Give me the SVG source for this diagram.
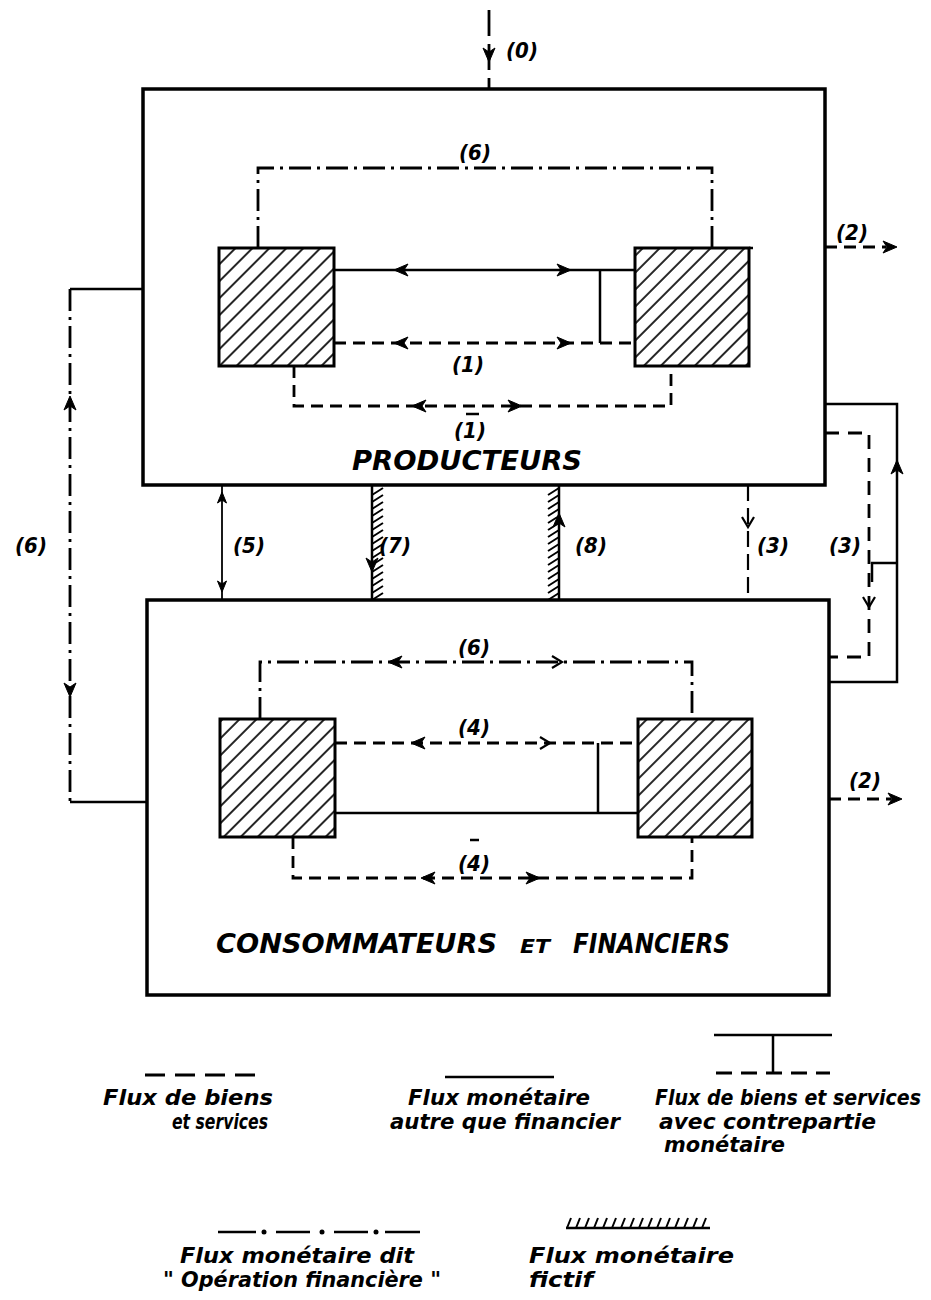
<svg xmlns="http://www.w3.org/2000/svg" xmlns:xlink="http://www.w3.org/1999/xlink" width="931" height="1300" viewBox="0 0 931 1300">
<style>
.box{fill:#fff;stroke:#000;stroke-width:3.5}
.hr{fill:url(#hatch);stroke:#000;stroke-width:3}
.s{fill:none;stroke:#000;stroke-width:2.5}
.th{fill:none;stroke:#000;stroke-width:1.8}
.d{fill:none;stroke:#000;stroke-width:2.8;stroke-dasharray:12 7}
.dd{fill:none;stroke:#000;stroke-width:2.8;stroke-dasharray:22 6 3 6}
.tk{fill:none;stroke:#000;stroke-width:2}
.ah{fill:#000;stroke:#000;stroke-width:1}
.ao{fill:none;stroke:#000;stroke-width:2.2}
text{font-family:"DejaVu Sans Condensed","DejaVu Sans","Liberation Sans",sans-serif;font-style:italic;font-weight:bold;fill:#000}
.lb{font-size:22px;text-anchor:middle}
.tt{font-size:27px}
.lg{font-size:21px}
</style>
<defs>
<pattern id="hatch" patternUnits="userSpaceOnUse" width="12" height="12" patternTransform="rotate(45)">
<rect width="12" height="12" fill="#fff"/>
<line x1="6" y1="0" x2="6" y2="12" stroke="#000" stroke-width="1.7"/>
</pattern>
<path id="af" d="M0,0 L-14,-6 L-10,0 L-14,6 Z"/>
<path id="afs" d="M0,0 L-11,-4.5 L-8,0 L-11,4.5 Z"/>
<path id="ao" d="M-10,-6 L0,0 L-10,6"/>
</defs>

<g id="producteurs">
<rect class="box" x="143" y="89" width="682" height="396"/>
<rect class="hr" x="219" y="248" width="115" height="118"/>
<rect class="hr" x="635" y="248" width="114" height="118"/>
<line class="s" x1="749" y1="248" x2="753" y2="248" stroke-width="3"/>
<text class="tt" x="352" y="470" textLength="230" lengthAdjust="spacingAndGlyphs">PRODUCTEURS</text>
</g>

<g id="consommateurs">
<rect class="box" x="147" y="600" width="682" height="395"/>
<rect class="hr" x="220" y="719" width="115" height="118"/>
<rect class="hr" x="638" y="719" width="114" height="118"/>
<text class="tt" x="216" y="953"><tspan x="216" textLength="281" lengthAdjust="spacingAndGlyphs">CONSOMMATEURS</tspan><tspan x="520" font-size="19" textLength="30" lengthAdjust="spacingAndGlyphs">ET</tspan><tspan x="573" textLength="157" lengthAdjust="spacingAndGlyphs">FINANCIERS</tspan></text>
</g>

<g id="connectors">
<!-- (0) -->
<path class="d" d="M489,10 V89" style="stroke-dasharray:26 8"/>
<use href="#af" class="ah" transform="translate(489,62) rotate(90)"/>
<text class="lb" x="522" y="58">(0)</text>

<!-- top box internal -->
<path class="dd" d="M258,248 V168 H712 V248"/>
<text class="lb" x="475" y="160">(6)</text>
<path class="s" d="M334,270 H635 M600,270 V343"/>
<use href="#af" class="ah" transform="translate(394,270) rotate(180)"/>
<use href="#af" class="ah" transform="translate(571,270)"/>
<path class="d" d="M334,343 H635"/>
<use href="#af" class="ah" transform="translate(394,343) rotate(180)"/>
<use href="#af" class="ah" transform="translate(571,343)"/>
<text class="lb" x="468" y="372">(1)</text>
<path class="d" d="M294,366 V406 H671 V366"/>
<use href="#af" class="ah" transform="translate(412,406) rotate(180)"/>
<use href="#af" class="ah" transform="translate(522,406)"/>
<text class="lb" x="470" y="438">(1)</text>
<line class="s" x1="466" y1="414" x2="479" y2="414"/>

<!-- bottom box internal -->
<path class="dd" d="M260,719 V662 H692 V719"/>
<use href="#af" class="ah" transform="translate(388,662) rotate(180)"/>
<use href="#ao" class="ao" transform="translate(562,662)"/>
<text class="lb" x="474" y="655">(6)</text>
<path class="d" d="M335,743 H638"/>
<use href="#af" class="ah" transform="translate(411,743) rotate(180)"/>
<use href="#ao" class="ao" transform="translate(550,743)"/>
<text class="lb" x="474" y="735">(4)</text>
<path class="s" d="M598,743 V813 M335,813 H638"/>
<path class="d" d="M293,837 V878 H692 V837"/>
<use href="#af" class="ah" transform="translate(421,878) rotate(180)"/>
<use href="#af" class="ah" transform="translate(540,878)"/>
<text class="lb" x="474" y="871">(4)</text>
<line class="s" x1="470" y1="840" x2="479" y2="840"/>

<!-- left (6) -->
<path class="s" d="M143,289 H70 M70,802 H147" stroke-width="3"/>
<path class="dd" d="M70,289 V802"/>
<use href="#af" class="ah" transform="translate(70,396) rotate(-90)"/>
<use href="#af" class="ah" transform="translate(70,697) rotate(90)"/>
<text class="lb" x="31" y="553">(6)</text>

<!-- (5) -->
<path class="th" d="M222,485 V600"/>
<use href="#afs" class="ah" transform="translate(222,492) rotate(-90)"/>
<use href="#afs" class="ah" transform="translate(222,592) rotate(90)"/>
<text class="lb" x="249" y="553">(5)</text>

<!-- (7) fictif -->
<path class="s" d="M372,485 V600"/>
<path class="tk" d="M372,495 l11,-7 M372,502 l11,-7 M372,509 l11,-7 M372,516 l11,-7 M372,523 l11,-7 M372,530 l11,-7 M372,537 l11,-7 M372,544 l11,-7 M372,551 l11,-7 M372,558 l11,-7 M372,565 l11,-7 M372,572 l11,-7 M372,579 l11,-7 M372,586 l11,-7 M372,593 l11,-7 M372,600 l11,-7"/>
<use href="#af" class="ah" transform="translate(372,572) rotate(90)"/>
<text class="lb" x="395" y="553">(7)</text>

<!-- (8) fictif -->
<path class="s" d="M559,485 V600"/>
<path class="tk" d="M548,495 l11,-7 M548,502 l11,-7 M548,509 l11,-7 M548,516 l11,-7 M548,523 l11,-7 M548,530 l11,-7 M548,537 l11,-7 M548,544 l11,-7 M548,551 l11,-7 M548,558 l11,-7 M548,565 l11,-7 M548,572 l11,-7 M548,579 l11,-7 M548,586 l11,-7 M548,593 l11,-7 M548,600 l11,-7"/>
<use href="#af" class="ah" transform="translate(559,513) rotate(-90)"/>
<text class="lb" x="591" y="553">(8)</text>

<!-- (3) left -->
<path class="d" d="M748,485 V600" style="stroke-width:2.2;stroke-dasharray:16 7"/>
<use href="#ao" class="ao" transform="translate(748,527) rotate(90)"/>
<text class="lb" x="773" y="553">(3)</text>

<!-- right loops -->
<path class="s" d="M825,404 H897 V682 H829" stroke-width="3"/>
<use href="#af" class="ah" transform="translate(897,460) rotate(-90)"/>
<path class="s" d="M897,563 H872 V582" stroke-width="3"/>
<path class="d" d="M825,433 H869 V657 H829" style="stroke-dasharray:14 9"/>
<use href="#ao" class="ao" transform="translate(869,607) rotate(90)"/>
<text class="lb" x="845" y="553">(3)</text>

<!-- (2) -->
<path class="d" d="M825,247 H886"/>
<use href="#af" class="ah" transform="translate(897,247)"/>
<text class="lb" x="852" y="240">(2)</text>
<path class="d" d="M829,799 H891"/>
<use href="#af" class="ah" transform="translate(902,799)"/>
<text class="lb" x="865" y="788">(2)</text>
</g>

<g id="legende">
<path class="d" d="M145,1075 H255" style="stroke-dasharray:20 10"/>
<text class="lg" x="103" y="1105" textLength="170" lengthAdjust="spacingAndGlyphs">Flux de biens</text>
<text class="lg" x="172" y="1129" textLength="96" lengthAdjust="spacingAndGlyphs">et services</text>

<path class="s" d="M445,1077 H554" stroke-width="3"/>
<text class="lg" x="408" y="1105" textLength="182" lengthAdjust="spacingAndGlyphs">Flux monétaire</text>
<text class="lg" x="390" y="1129" textLength="230" lengthAdjust="spacingAndGlyphs">autre que financier</text>

<path class="s" d="M714,1035 H832" stroke-width="3.5"/>
<path class="s" d="M773,1035 V1073"/>
<path class="d" d="M716,1073 H830" style="stroke-dasharray:16 9"/>
<text class="lg" x="655" y="1105" textLength="266" lengthAdjust="spacingAndGlyphs">Flux de biens et services</text>
<text class="lg" x="659" y="1129" textLength="217" lengthAdjust="spacingAndGlyphs">avec contrepartie</text>
<text class="lg" x="664" y="1152" textLength="121" lengthAdjust="spacingAndGlyphs">monétaire</text>

<path class="s" d="M218,1232 H256 M276,1232 H310 M334,1232 H368 M385,1232 H420" stroke-width="3"/>
<circle cx="264" cy="1232" r="2.5"/>
<circle cx="322" cy="1232" r="2.5"/>
<circle cx="376" cy="1232" r="2.5"/>
<text class="lg" x="180" y="1263" textLength="234" lengthAdjust="spacingAndGlyphs">Flux monétaire dit</text>
<text class="lg" x="163" y="1287" textLength="278" lengthAdjust="spacingAndGlyphs">" Opération financière "</text>

<path class="s" d="M566,1228 H710" stroke-width="2.5"/>
<path class="tk" d="M567,1228 l4,-10 M576,1228 l4,-10 M585,1228 l4,-10 M594,1228 l4,-10 M603,1228 l4,-10 M612,1228 l4,-10 M621,1228 l4,-10 M630,1228 l4,-10 M639,1228 l4,-10 M648,1228 l4,-10 M657,1228 l4,-10 M666,1228 l4,-10 M675,1228 l4,-10 M684,1228 l4,-10 M693,1228 l4,-10 M702,1228 l4,-10"/>
<text class="lg" x="529" y="1263" textLength="205" lengthAdjust="spacingAndGlyphs">Flux monétaire</text>
<text class="lg" x="529" y="1287" textLength="64" lengthAdjust="spacingAndGlyphs">fictif</text>
</g>
</svg>
